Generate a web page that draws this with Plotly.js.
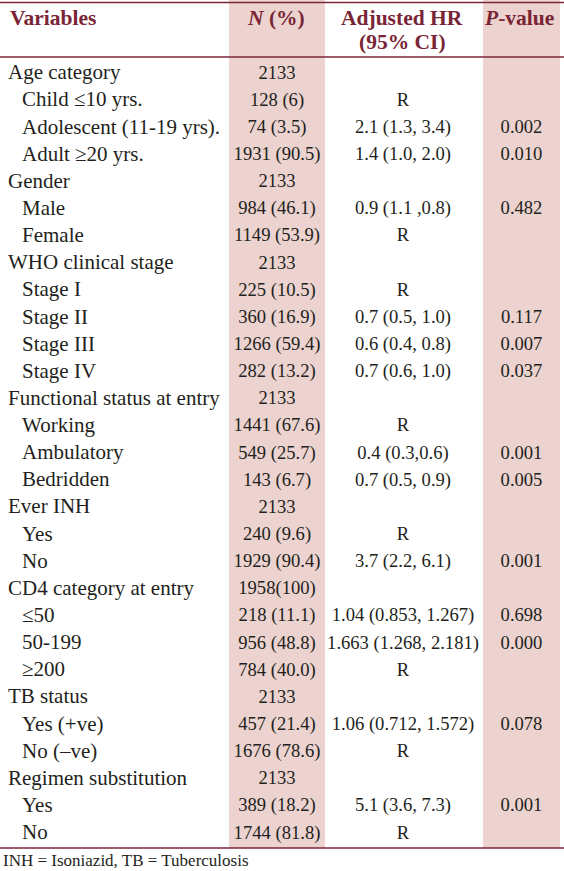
<!DOCTYPE html>
<html>
<head>
<meta charset="utf-8">
<script src="https://cdn.plot.ly/plotly-3.0.1.min.js"></script>
<style>
  html, body { margin: 0; padding: 0; background: #ffffff; }
  #chart { width: 564px; height: 871px; }
</style>
</head>
<body>
<div id="chart"></div>
<script>
// ---- data ----
const headers = ['<b>Variables</b>', '<b><i>N</i> (%)</b>', '<b>Adjusted HR</b>', '<b>(95% CI)</b>', '<b><i>P</i>-value</b>'];
const variables = ['Age category','Child ≤10 yrs.','Adolescent (11-19 yrs).','Adult ≥20 yrs.',
  'Gender','Male','Female',
  'WHO clinical stage','Stage I','Stage II','Stage III','Stage IV',
  'Functional status at entry','Working','Ambulatory','Bedridden',
  'Ever INH','Yes','No',
  'CD4 category at entry','≤50','50-199','≥200',
  'TB status','Yes (+ve)','No (–ve)',
  'Regimen substitution','Yes','No'];
const isGroup = [1,0,0,0, 1,0,0, 1,0,0,0,0, 1,0,0,0, 1,0,0, 1,0,0,0, 1,0,0, 1,0,0];
const nPct = ['2133','128 (6)','74 (3.5)','1931 (90.5)',
  '2133','984 (46.1)','1149 (53.9)',
  '2133','225 (10.5)','360 (16.9)','1266 (59.4)','282 (13.2)',
  '2133','1441 (67.6)','549 (25.7)','143 (6.7)',
  '2133','240 (9.6)','1929 (90.4)',
  '1958(100)','218 (11.1)','956 (48.8)','784 (40.0)',
  '2133','457 (21.4)','1676 (78.6)',
  '2133','389 (18.2)','1744 (81.8)'];
const adjHR = ['','R','2.1 (1.3, 3.4)','1.4 (1.0, 2.0)',
  '','0.9 (1.1 ,0.8)','R',
  '','R','0.7 (0.5, 1.0)','0.6 (0.4, 0.8)','0.7 (0.6, 1.0)',
  '','R','0.4 (0.3,0.6)','0.7 (0.5, 0.9)',
  '','R','3.7 (2.2, 6.1)',
  '','1.04 (0.853, 1.267)','1.663 (1.268, 2.181)','R',
  '','1.06 (0.712, 1.572)','R',
  '','5.1 (3.6, 7.3)','R'];
const pValue = ['','','0.002','0.010',
  '','0.482','',
  '','','0.117','0.007','0.037',
  '','','0.001','0.005',
  '','','0.001',
  '','0.698','0.000','',
  '','0.078','',
  '','0.001',''];
const footnote = 'INH = Isoniazid, TB = Tuberculosis';

// ---- layout constants ----
const W = 564, H = 871;
const ROW0 = 74, ROWH = 27.14;
const X_GROUP = 8, X_SUB = 22;
const N_L = 229, N_R = 325, P_L = 483, P_R = 560;
const X_N = (N_L + N_R) / 2, X_HR = 403, X_P = 521.5;
const PINK = '#ecd3cf', MAROON = '#7a2536', TXT = '#231f20';
const FONT = '"Liberation Serif", "Times New Roman", serif';
const FS_VAR = 21, FS_NUM = 18.6;

const rowY = variables.map((_, i) => ROW0 + i * ROWH);

function textTrace(xs, ys, texts, pos, size) {
  return {
    type: 'scatter', mode: 'text', x: xs, y: ys, text: texts,
    textposition: pos, textfont: {family: FONT, size: size, color: TXT},
    hoverinfo: 'skip', showlegend: false, cliponaxis: false
  };
}

const gIdx = variables.map((_, i) => i).filter(i => isGroup[i]);
const sIdx = variables.map((_, i) => i).filter(i => !isGroup[i]);

const traces = [
  textTrace(gIdx.map(() => X_GROUP), gIdx.map(i => rowY[i]), gIdx.map(i => variables[i]), 'middle right', FS_VAR),
  textTrace(sIdx.map(() => X_SUB), sIdx.map(i => rowY[i]), sIdx.map(i => variables[i]), 'middle right', FS_VAR),
  textTrace(rowY.map(() => X_N), rowY, nPct, 'middle center', FS_NUM),
  textTrace(rowY.map(() => X_HR), rowY, adjHR, 'middle center', FS_NUM),
  textTrace(rowY.map(() => X_P), rowY, pValue, 'middle center', FS_NUM)
];

const hFont = {family: FONT, size: 21.5, color: MAROON};
const annotations = [
  {x: 9, y: 18, text: headers[0], xanchor: 'left'},
  {x: 276, y: 18, text: headers[1], xanchor: 'center'},
  {x: 402, y: 18, text: headers[2], xanchor: 'center'},
  {x: 402, y: 42, text: headers[3], xanchor: 'center'},
  {x: 519, y: 18, text: headers[4], xanchor: 'center'}
].map(a => Object.assign(a, {xref: 'x', yref: 'y', yanchor: 'middle', showarrow: false, font: hFont, borderpad: 0}));
annotations.push({x: 2, y: 860, xref: 'x', yref: 'y', xanchor: 'left', yanchor: 'middle',
  text: footnote, showarrow: false, borderpad: 0, font: {family: FONT, size: 17, color: TXT}});

const shapes = [
  {type: 'rect', xref: 'x', yref: 'y', x0: N_L, x1: N_R, y0: 0, y1: 848, fillcolor: PINK, line: {width: 0}, layer: 'below'},
  {type: 'rect', xref: 'x', yref: 'y', x0: P_L, x1: P_R, y0: 0, y1: 848, fillcolor: PINK, line: {width: 0}, layer: 'below'},
  {type: 'line', xref: 'x', yref: 'y', x0: 0, x1: W, y0: 2.5, y1: 2.5, line: {color: MAROON, width: 1.5}},
  {type: 'line', xref: 'x', yref: 'y', x0: 0, x1: W, y0: 57, y1: 57, line: {color: MAROON, width: 1.5}},
  {type: 'line', xref: 'x', yref: 'y', x0: 0, x1: W, y0: 848, y1: 848, line: {color: MAROON, width: 1.5}}
];

const layout = {
  width: W, height: H,
  margin: {l: 0, r: 0, t: 0, b: 0, pad: 0},
  paper_bgcolor: '#ffffff', plot_bgcolor: '#ffffff',
  xaxis: {range: [0, W], visible: false, fixedrange: true},
  yaxis: {range: [H, 0], visible: false, fixedrange: true},
  showlegend: false,
  shapes: shapes,
  annotations: annotations
};

Plotly.newPlot('chart', traces, layout, {staticPlot: true, displayModeBar: false});
</script>
</body>
</html>
